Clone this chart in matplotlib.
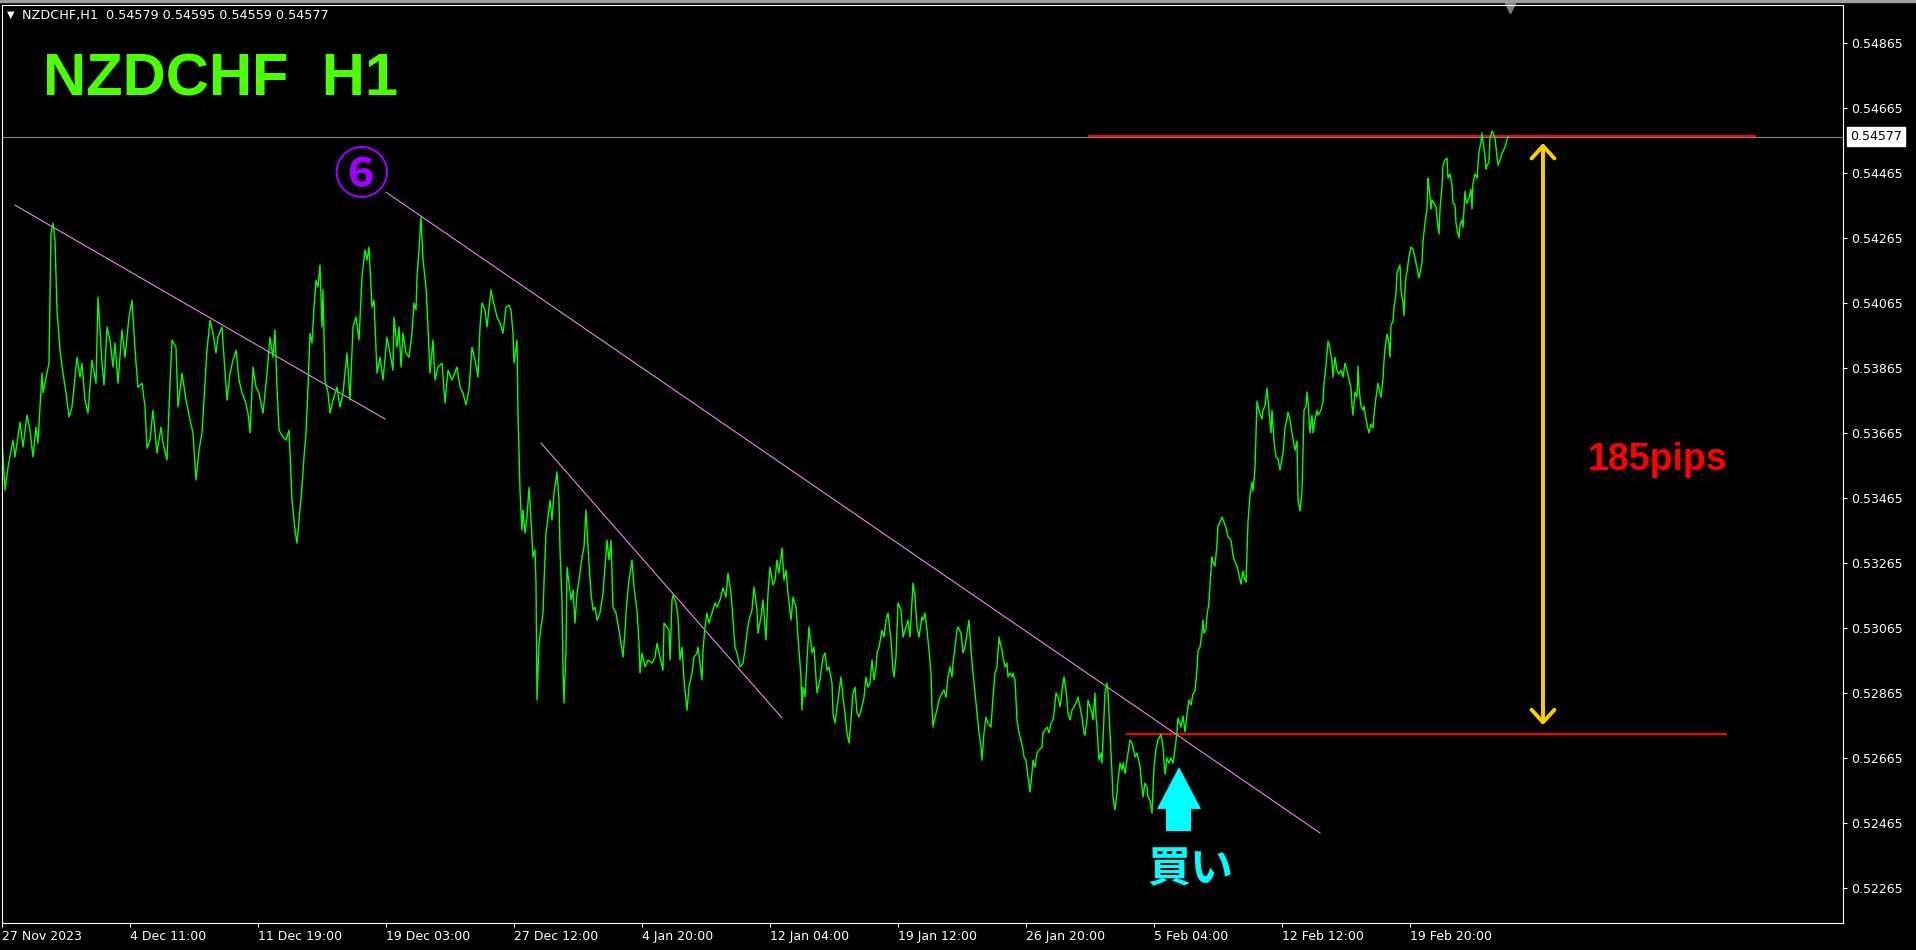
import matplotlib
matplotlib.use('Agg')
import matplotlib.pyplot as plt
from matplotlib.patches import Polygon, Rectangle

# H1 closes (bar number = position on the time axis)
bar = [
    2, 5, 8, 13, 15, 20, 23, 27, 30, 33, 36, 38, 40, 42, 43, 47, 49, 51, 53, 55,
    57, 60, 63, 66, 69, 72, 74, 77, 80, 82, 85, 88, 92, 96, 98, 102, 104, 107, 110, 113,
    115, 118, 122, 125, 129, 132, 135, 138, 142, 145, 147, 150, 153, 157, 161, 163, 167, 170, 172, 176,
    178, 182, 186, 190, 193, 196, 199, 202, 204, 207, 210, 213, 216, 218, 222, 224, 227, 230, 233, 236,
    239, 242, 245, 248, 250, 253, 256, 259, 263, 267, 270, 273, 275, 277, 279, 283, 286, 289, 290, 292,
    295, 297, 299, 302, 304, 306, 308, 310, 312, 314, 316, 318, 320, 322, 323, 325, 328, 330, 333, 337,
    340, 343, 347, 350, 353, 356, 359, 362, 365, 367, 369, 372, 374, 377, 380, 383, 387, 390, 393, 394,
    397, 399, 401, 403, 406, 409, 412, 414, 416, 417, 419, 421, 423, 426, 428, 430, 433, 435, 438, 442,
    445, 448, 452, 457, 460, 463, 466, 469, 472, 475, 478, 480, 482, 485, 487, 491, 493, 497, 500, 503,
    506, 509, 511, 513, 514, 517, 518, 520, 522, 523, 525, 527, 529, 531, 533, 535, 536, 537, 539, 541,
    543, 544, 546, 548, 550, 552, 554, 557, 559, 560, 562, 563, 564, 566, 567, 569, 571, 573, 575, 577,
    579, 582, 584, 586, 588, 591, 593, 595, 597, 600, 603, 605, 607, 609, 611, 613, 616, 619, 621, 623,
    625, 627, 629, 632, 634, 637, 639, 640, 642, 645, 648, 652, 655, 657, 660, 663, 664, 667, 669, 670,
    672, 673, 676, 678, 680, 682, 684, 686, 687, 689, 692, 694, 697, 698, 700, 702, 703, 705, 707, 709,
    712, 715, 717, 720, 723, 726, 728, 731, 733, 735, 737, 740, 743, 745, 747, 749, 752, 754, 757, 758,
    761, 763, 766, 768, 770, 773, 775, 777, 779, 782, 784, 786, 788, 791, 793, 796, 798, 801, 802, 803,
    805, 807, 809, 812, 814, 816, 817, 820, 823, 825, 827, 829, 832, 833, 835, 837, 838, 841, 843, 845,
    847, 849, 851, 853, 855, 857, 859, 862, 864, 866, 868, 870, 872, 874, 876, 877, 879, 882, 884, 886,
    888, 891, 893, 894, 896, 898, 901, 903, 906, 908, 910, 912, 913, 915, 917, 919, 920, 922, 923, 925,
    927, 929, 931, 932, 933, 935, 937, 939, 942, 944, 946, 948, 950, 952, 953, 955, 957, 958, 961, 963,
    965, 967, 969, 971, 973, 975, 977, 979, 981, 982, 984, 986, 988, 991, 993, 995, 997, 999, 1000, 1002,
    1003, 1005, 1007, 1008, 1010, 1012, 1013, 1015, 1017, 1019, 1021, 1023, 1024, 1026, 1028, 1030, 1032, 1033, 1035, 1037,
    1039, 1042, 1043, 1045, 1047, 1049, 1051, 1053, 1054, 1056, 1058, 1060, 1063, 1064, 1066, 1068, 1070, 1072, 1074, 1076,
    1078, 1080, 1082, 1084, 1085, 1087, 1088, 1090, 1092, 1093, 1095, 1096, 1097, 1099, 1101, 1102, 1103, 1105, 1107, 1108,
    1110, 1112, 1113, 1115, 1117, 1118, 1120, 1122, 1123, 1125, 1127, 1128, 1130, 1132, 1133, 1135, 1137, 1138, 1140, 1142,
    1143, 1145, 1147, 1148, 1150, 1152, 1154, 1156, 1158, 1161, 1163, 1165, 1167, 1169, 1171, 1173, 1175, 1177, 1178, 1181,
    1183, 1185, 1187, 1189, 1191, 1193, 1195, 1197, 1198, 1200, 1202, 1203, 1204, 1206, 1207, 1209, 1210, 1212, 1213, 1215,
    1217, 1218, 1220, 1222, 1224, 1226, 1228, 1231, 1233, 1235, 1237, 1239, 1241, 1243, 1245, 1246, 1247, 1248, 1250, 1252,
    1253, 1255, 1256, 1257, 1259, 1262, 1263, 1265, 1267, 1269, 1271, 1272, 1274, 1276, 1278, 1280, 1282, 1283, 1285, 1287,
    1288, 1290, 1292, 1295, 1297, 1298, 1300, 1302, 1303, 1304, 1306, 1307, 1308, 1310, 1312, 1313, 1315, 1317, 1318, 1321,
    1323, 1324, 1326, 1328, 1330, 1332, 1333, 1335, 1337, 1339, 1341, 1343, 1345, 1347, 1349, 1351, 1352, 1353, 1355, 1357,
    1358, 1359, 1361, 1363, 1364, 1366, 1367, 1369, 1371, 1373, 1374, 1376, 1378, 1379, 1381, 1383, 1384, 1385, 1387, 1389,
    1390, 1391, 1393, 1394, 1396, 1397, 1399, 1400, 1401, 1403, 1404, 1405, 1406, 1407, 1409, 1411, 1413, 1415, 1417, 1419,
    1420, 1422, 1423, 1425, 1427, 1428, 1429, 1431, 1432, 1434, 1436, 1437, 1439, 1440, 1442, 1443, 1445, 1447, 1448, 1450,
    1452, 1453, 1455, 1456, 1457, 1459, 1460, 1462, 1463, 1465, 1466, 1467, 1469, 1471, 1472, 1473, 1475, 1477, 1478, 1479,
    1481, 1482, 1483, 1485, 1486, 1487, 1489, 1490, 1492, 1493, 1495, 1497, 1498, 1500, 1502, 1503, 1505, 1507, 1508,
]
close = [
    0.53643, 0.53489, 0.53560, 0.53643, 0.53591, 0.53698, 0.53622, 0.53720, 0.53674, 0.53591, 0.53683, 0.53634, 0.53745, 0.53849, 0.53788, 0.53849, 0.53880, 0.54280, 0.54311, 0.54258,
    0.54043, 0.53920, 0.53849, 0.53788, 0.53714, 0.53745, 0.53806, 0.53898, 0.53837, 0.53880, 0.53766, 0.53726, 0.53889, 0.53818, 0.54083, 0.53880, 0.53812, 0.53991, 0.53951, 0.53868,
    0.53942, 0.53818, 0.53982, 0.53898, 0.54022, 0.54074, 0.53920, 0.53806, 0.53818, 0.53745, 0.53618, 0.53643, 0.53735, 0.53603, 0.53683, 0.53634, 0.53582, 0.53818, 0.53951, 0.53929,
    0.53745, 0.53849, 0.53766, 0.53705, 0.53665, 0.53520, 0.53612, 0.53665, 0.53766, 0.53920, 0.54012, 0.53972, 0.53911, 0.53960, 0.53991, 0.53898, 0.53766, 0.53849, 0.53889, 0.53920,
    0.53828, 0.53788, 0.53766, 0.53726, 0.53665, 0.53868, 0.53806, 0.53788, 0.53726, 0.53849, 0.53960, 0.53898, 0.53982, 0.53806, 0.53674, 0.53652, 0.53643, 0.53674, 0.53603, 0.53458,
    0.53366, 0.53326, 0.53397, 0.53498, 0.53591, 0.53665, 0.53806, 0.53972, 0.53942, 0.54052, 0.54135, 0.54114, 0.54182, 0.53991, 0.54105, 0.53828, 0.53788, 0.53726, 0.53766, 0.53806,
    0.53745, 0.53788, 0.53911, 0.53766, 0.53991, 0.54022, 0.53951, 0.54145, 0.54228, 0.54197, 0.54237, 0.54052, 0.54074, 0.53849, 0.53898, 0.53828, 0.53960, 0.53911, 0.53858, 0.54022,
    0.53929, 0.53991, 0.53868, 0.53972, 0.53911, 0.53898, 0.53972, 0.54065, 0.54043, 0.54145, 0.54228, 0.54329, 0.54197, 0.54114, 0.53991, 0.53849, 0.53951, 0.53828, 0.53868, 0.53880,
    0.53757, 0.53858, 0.53828, 0.53868, 0.53806, 0.53788, 0.53751, 0.53797, 0.53929, 0.53889, 0.53837, 0.53991, 0.54065, 0.54043, 0.53991, 0.54105, 0.54074, 0.54022, 0.54003, 0.53972,
    0.54052, 0.54058, 0.54043, 0.53972, 0.53880, 0.53951, 0.53726, 0.53489, 0.53366, 0.53428, 0.53357, 0.53406, 0.53498, 0.53397, 0.53283, 0.53305, 0.53203, 0.52843, 0.53018, 0.53068,
    0.53111, 0.53203, 0.53357, 0.53406, 0.53458, 0.53397, 0.53480, 0.53545, 0.53458, 0.53305, 0.53151, 0.52945, 0.52834, 0.52997, 0.53252, 0.53203, 0.53151, 0.53182, 0.53080, 0.53172,
    0.53212, 0.53283, 0.53314, 0.53428, 0.53314, 0.53172, 0.53120, 0.53129, 0.53089, 0.53111, 0.53172, 0.53252, 0.53335, 0.53274, 0.53335, 0.53129, 0.53111, 0.53058, 0.53018, 0.52975,
    0.53058, 0.53151, 0.53212, 0.53274, 0.53191, 0.53120, 0.53018, 0.52926, 0.52988, 0.52945, 0.52966, 0.52957, 0.52975, 0.53018, 0.52975, 0.52935, 0.53080, 0.53068, 0.53058, 0.52966,
    0.53151, 0.53166, 0.53142, 0.53099, 0.52966, 0.53006, 0.52905, 0.52843, 0.52812, 0.52883, 0.52926, 0.52975, 0.52988, 0.53006, 0.52957, 0.52905, 0.52997, 0.53068, 0.53111, 0.53080,
    0.53111, 0.53142, 0.53129, 0.53151, 0.53188, 0.53160, 0.53234, 0.53172, 0.53089, 0.53006, 0.52988, 0.52945, 0.52957, 0.52997, 0.53049, 0.53089, 0.53120, 0.53191, 0.53120, 0.53049,
    0.53099, 0.53151, 0.53028, 0.53172, 0.53252, 0.53197, 0.53212, 0.53274, 0.53234, 0.53311, 0.53212, 0.53243, 0.53172, 0.53089, 0.53160, 0.53129, 0.53037, 0.52914, 0.52812, 0.52883,
    0.52852, 0.52966, 0.53068, 0.52988, 0.53006, 0.52914, 0.52865, 0.52905, 0.52975, 0.52988, 0.52935, 0.52945, 0.52895, 0.52803, 0.52772, 0.52822, 0.52843, 0.52914, 0.52852, 0.52803,
    0.52742, 0.52711, 0.52782, 0.52865, 0.52883, 0.52803, 0.52791, 0.52822, 0.52852, 0.52914, 0.52883, 0.52895, 0.52966, 0.52905, 0.52945, 0.52988, 0.53006, 0.53058, 0.53037, 0.53089,
    0.53111, 0.53028, 0.52935, 0.52914, 0.52975, 0.53142, 0.53120, 0.53037, 0.53068, 0.53089, 0.53037, 0.53151, 0.53203, 0.53160, 0.53068, 0.53037, 0.53058, 0.53099, 0.53089, 0.53111,
    0.53058, 0.52997, 0.52926, 0.52822, 0.52760, 0.52791, 0.52812, 0.52843, 0.52865, 0.52874, 0.52852, 0.52914, 0.52945, 0.52914, 0.52957, 0.53006, 0.53058, 0.53068, 0.53049, 0.52988,
    0.53006, 0.53049, 0.53089, 0.52997, 0.52926, 0.52865, 0.52803, 0.52742, 0.52698, 0.52658, 0.52742, 0.52791, 0.52772, 0.52760, 0.52852, 0.52926, 0.52945, 0.53037, 0.53018, 0.52997,
    0.52975, 0.52945, 0.52957, 0.52914, 0.52926, 0.52914, 0.52926, 0.52905, 0.52782, 0.52742, 0.52720, 0.52689, 0.52668, 0.52658, 0.52606, 0.52560, 0.52618, 0.52658, 0.52637, 0.52680,
    0.52689, 0.52698, 0.52742, 0.52751, 0.52760, 0.52742, 0.52772, 0.52782, 0.52803, 0.52865, 0.52852, 0.52822, 0.52895, 0.52914, 0.52874, 0.52803, 0.52782, 0.52812, 0.52822, 0.52834,
    0.52852, 0.52822, 0.52791, 0.52742, 0.52735, 0.52782, 0.52843, 0.52822, 0.52803, 0.52782, 0.52865, 0.52791, 0.52760, 0.52658, 0.52680, 0.52649, 0.52720, 0.52865, 0.52895, 0.52865,
    0.52742, 0.52618, 0.52545, 0.52505, 0.52557, 0.52597, 0.52649, 0.52628, 0.52649, 0.52618, 0.52658, 0.52680, 0.52720, 0.52711, 0.52698, 0.52668, 0.52680, 0.52668, 0.52637, 0.52575,
    0.52545, 0.52588, 0.52575, 0.52545, 0.52535, 0.52495, 0.52637, 0.52692, 0.52720, 0.52738, 0.52698, 0.52615, 0.52665, 0.52649, 0.52665, 0.52649, 0.52692, 0.52745, 0.52788, 0.52760,
    0.52794, 0.52745, 0.52800, 0.52843, 0.52828, 0.52862, 0.52871, 0.52938, 0.52994, 0.53006, 0.53049, 0.53089, 0.53049, 0.53062, 0.53102, 0.53145, 0.53200, 0.53283, 0.53268, 0.53255,
    0.53323, 0.53379, 0.53391, 0.53406, 0.53391, 0.53372, 0.53345, 0.53335, 0.53289, 0.53268, 0.53255, 0.53228, 0.53200, 0.53240, 0.53212, 0.53206, 0.53295, 0.53391, 0.53474, 0.53514,
    0.53486, 0.53557, 0.53665, 0.53763, 0.53735, 0.53708, 0.53735, 0.53748, 0.53803, 0.53735, 0.53665, 0.53735, 0.53640, 0.53591, 0.53585, 0.53551, 0.53585, 0.53603, 0.53680, 0.53708,
    0.53729, 0.53708, 0.53665, 0.53612, 0.53640, 0.53462, 0.53425, 0.53486, 0.53612, 0.53735, 0.53748, 0.53791, 0.53763, 0.53665, 0.53720, 0.53665, 0.53708, 0.53735, 0.53720, 0.53735,
    0.53763, 0.53818, 0.53871, 0.53948, 0.53926, 0.53886, 0.53837, 0.53898, 0.53858, 0.53846, 0.53858, 0.53837, 0.53880, 0.53858, 0.53831, 0.53803, 0.53748, 0.53720, 0.53791, 0.53775,
    0.53871, 0.53803, 0.53748, 0.53735, 0.53748, 0.53708, 0.53692, 0.53665, 0.53692, 0.53680, 0.53720, 0.53775, 0.53818, 0.53803, 0.53775, 0.53831, 0.53886, 0.53926, 0.53969, 0.53942,
    0.53898, 0.53997, 0.54009, 0.54052, 0.54092, 0.54160, 0.54175, 0.54182, 0.54105, 0.54065, 0.54025, 0.54105, 0.54148, 0.54160, 0.54209, 0.54237, 0.54231, 0.54203, 0.54175, 0.54142,
    0.54160, 0.54188, 0.54255, 0.54311, 0.54354, 0.54449, 0.54422, 0.54354, 0.54382, 0.54372, 0.54360, 0.54326, 0.54277, 0.54354, 0.54422, 0.54489, 0.54505, 0.54511, 0.54449, 0.54462,
    0.54428, 0.54372, 0.54366, 0.54311, 0.54292, 0.54265, 0.54305, 0.54320, 0.54298, 0.54409, 0.54382, 0.54372, 0.54388, 0.54415, 0.54354, 0.54434, 0.54462, 0.54449, 0.54489, 0.54532,
    0.54560, 0.54588, 0.54560, 0.54517, 0.54477, 0.54489, 0.54498, 0.54572, 0.54594, 0.54588, 0.54572, 0.54517, 0.54489, 0.54505, 0.54526, 0.54532, 0.54545, 0.54566, 0.54577,
]

price_ticks = [0.52265, 0.52465, 0.52665, 0.52865, 0.53065, 0.53265, 0.53465,
               0.53665, 0.53865, 0.54065, 0.54265, 0.54465, 0.54665, 0.54865]
time_labels = ['27 Nov 2023', '4 Dec 11:00', '11 Dec 19:00', '19 Dec 03:00',
               '27 Dec 12:00', '4 Jan 20:00', '12 Jan 04:00', '19 Jan 12:00',
               '26 Jan 20:00', '5 Feb 04:00', '12 Feb 12:00', '19 Feb 20:00']
time_ticks = [2, 130, 258, 386, 514, 642, 770, 898, 1026, 1154, 1282, 1410]

ohlc = [0.54579, 0.54595, 0.54559, 0.54577]
last_price = 0.54577
top_level = 0.54580      # 上の水平線
break_level = 0.52739    # ブレイクの水平線

# trend lines (start/end bar, start/end price)
trend_bars = [[15, 385], [386, 1320], [541, 782]]
trend_prices = [[0.54366, 0.53708], [0.54406, 0.52434], [0.53634, 0.52788]]

fig = plt.figure(figsize=(19.16, 9.5), dpi=100, facecolor='black')
ax = fig.add_axes([2 / 1916, 27 / 950, 1841 / 1916, 918 / 950])
ax.set_facecolor('black')
ax.set_xlim(2, 1843)
ax.set_ylim(0.52157, 0.54982)

# 軸
for s in ax.spines.values():
    s.set_color('white')
    s.set_linewidth(0.8)
ax.yaxis.tick_right()
ax.set_yticks(price_ticks)
ax.set_yticklabels(['%.5f' % p for p in price_ticks])
ax.set_xticks(time_ticks)
ax.set_xticklabels(time_labels, ha='left')
ax.tick_params(axis='y', colors='white', direction='out', length=3, width=0.8, pad=3, labelsize=9)
ax.tick_params(axis='x', colors='white', direction='out', length=3, width=0.8, pad=2, labelsize=9)

# 現在値ライン
ax.axhline(last_price, color='#778899', lw=0.8)

# 水平線
ax.hlines(top_level, 1088, 1756, color='#FF0000', lw=1.5)
ax.hlines(break_level, 1126, 1727, color='#FF0000', lw=1.5)

# トレンドライン
for xs, ys in zip(trend_bars, trend_prices):
    ax.plot(xs, ys, color='#EE82EE', lw=0.8)

# 終値ライン
ax.plot(bar, close, color='#00FF00', lw=1.0)

# 185pips の矢印
ax.annotate('', xy=(1543, 0.54557), xytext=(1543, 0.52766),
            arrowprops=dict(arrowstyle='<->,head_length=0.6,head_width=0.55',
                            color='#FFD000', lw=2.8, shrinkA=0, shrinkB=0,
                            mutation_scale=15))
ax.text(1588, 0.53551, '185pips', color='#FF0000', fontsize=27, weight='bold',
        family='Liberation Sans', ha='left', va='baseline')

# 買い矢印
buy_arrow = [(1179, 0.52637), (1201, 0.52508), (1191, 0.52508), (1191, 0.52440),
             (1166, 0.52440), (1166, 0.52508), (1157, 0.52508)]
ax.add_patch(Polygon(buy_arrow, closed=True, color='#00FFFF', lw=0))
ax.text(1190, 0.52323, '買い', color='#00FFFF', fontsize=31, weight='bold',
        family=['Noto Sans CJK JP', 'DejaVu Sans'], ha='center', va='center')

# ⑥
ax.text(361, 0.54453, '⑥', color='#A000FF', fontsize=40, weight='bold',
        family=['Noto Sans CJK JP', 'DejaVu Sans'], ha='center', va='center')

# 現在値ラベル
ax.annotate('%.5f' % last_price, xy=(1, last_price), xycoords=('axes fraction', 'data'),
            xytext=(5, 0), textcoords='offset points', ha='left', va='center',
            fontsize=9, color='black',
            bbox=dict(boxstyle='square,pad=0.25', fc='white', ec='white'))

# チャートシフトの三角
ax.plot([1510], [0.997], marker='v', ms=7, color='#808080',
        transform=ax.get_xaxis_transform(), clip_on=False)

# 上の枠
fig.patches.append(Rectangle((0, 1 - 2 / 950), 1, 2 / 950, transform=fig.transFigure,
                             color='#a0a0a0', zorder=5))

# ヘッダ
fig.text(7 / 1916, 1 - 15 / 950, '▼', fontsize=7, color='white', va='center')
fig.text(22 / 1916, 1 - 15 / 950, 'NZDCHF,H1  ' + ' '.join('%.5f' % v for v in ohlc),
         fontsize=9.2, color='white', va='center')
fig.text(43 / 1916, 1 - 95 / 950, 'NZDCHF  H1', fontsize=43, weight='bold',
         color='#4CFF00', family='Liberation Sans', va='baseline')

plt.savefig('out.png', dpi=100, facecolor='black')
